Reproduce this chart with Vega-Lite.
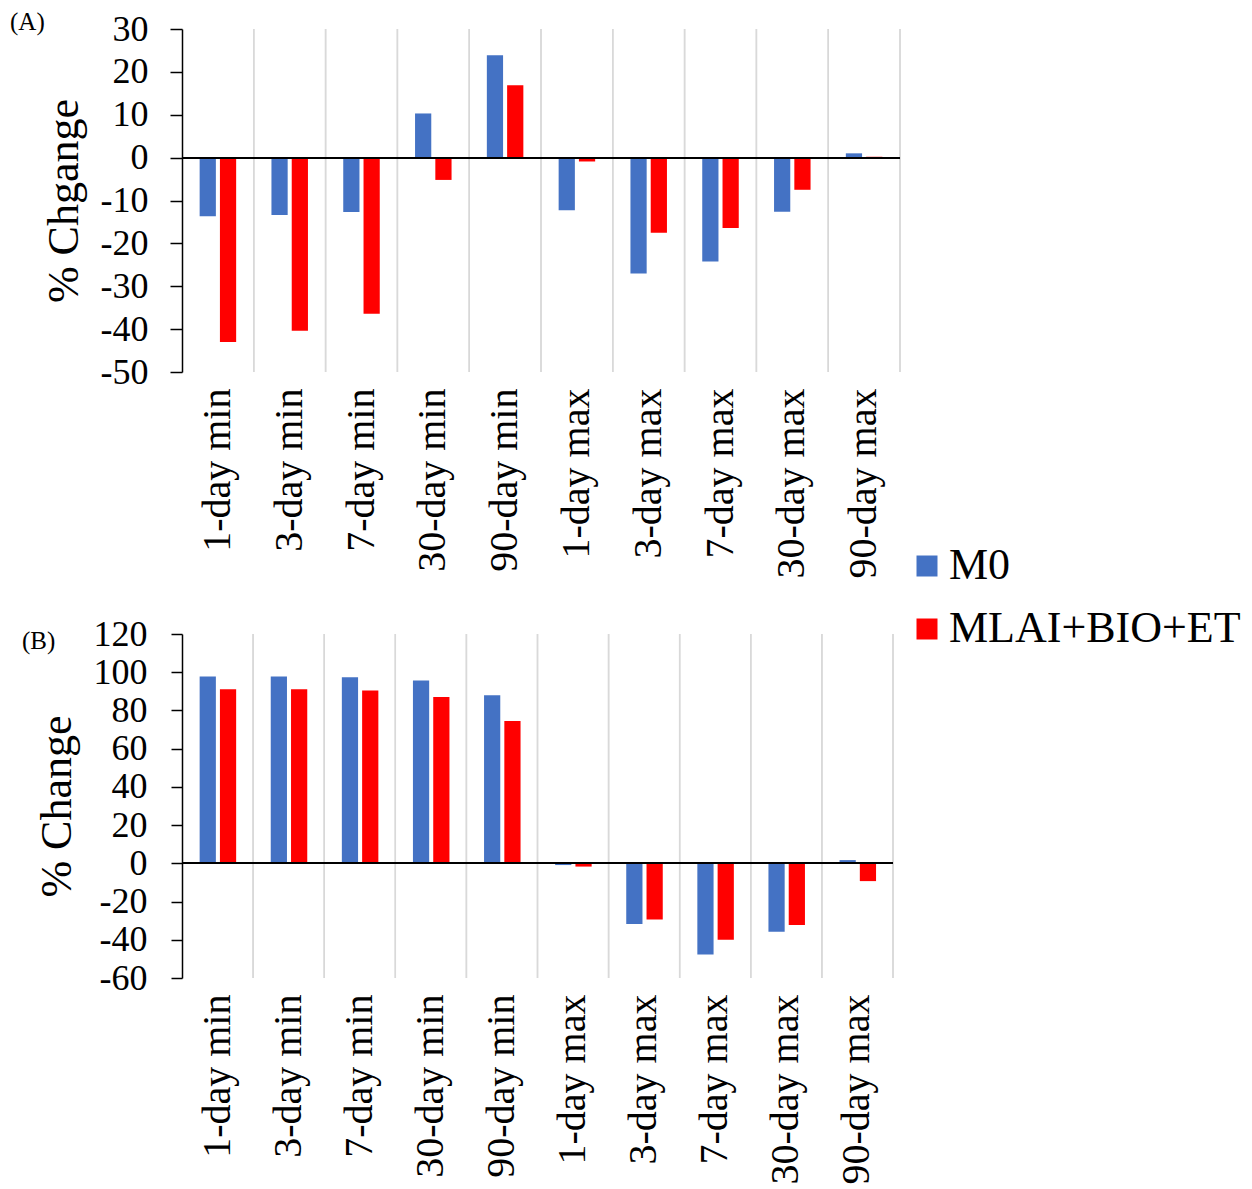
{
  "$schema": "https://vega.github.io/schema/vega-lite/v6.json",
  "background": "white",
  "padding": {"left": 10, "top": 10, "right": 5, "bottom": 5},
  "config": {
    "font": "Liberation Serif",
    "view": {"stroke": null},
    "axis": {"labelFont": "Liberation Serif", "titleFont": "Liberation Serif", "labelColor": "black", "titleColor": "black", "titleFontWeight": "normal"},
    "axisY": {"labelOverlap": false},
    "legend": {"labelFont": "Liberation Serif"},
    "title": {"font": "Liberation Serif", "fontWeight": "normal", "color": "black"}
  },
  "data": {
    "values": [
      {"panel": "A", "metric": "1-day min", "series": "M0", "value": -13.7},
      {"panel": "A", "metric": "1-day min", "series": "MLAI+BIO+ET", "value": -43.0},
      {"panel": "A", "metric": "3-day min", "series": "M0", "value": -13.4},
      {"panel": "A", "metric": "3-day min", "series": "MLAI+BIO+ET", "value": -40.4},
      {"panel": "A", "metric": "7-day min", "series": "M0", "value": -12.7},
      {"panel": "A", "metric": "7-day min", "series": "MLAI+BIO+ET", "value": -36.4},
      {"panel": "A", "metric": "30-day min", "series": "M0", "value": 10.3},
      {"panel": "A", "metric": "30-day min", "series": "MLAI+BIO+ET", "value": -5.2},
      {"panel": "A", "metric": "90-day min", "series": "M0", "value": 23.9},
      {"panel": "A", "metric": "90-day min", "series": "MLAI+BIO+ET", "value": 16.9},
      {"panel": "A", "metric": "1-day max", "series": "M0", "value": -12.3},
      {"panel": "A", "metric": "1-day max", "series": "MLAI+BIO+ET", "value": -0.9},
      {"panel": "A", "metric": "3-day max", "series": "M0", "value": -27.0},
      {"panel": "A", "metric": "3-day max", "series": "MLAI+BIO+ET", "value": -17.5},
      {"panel": "A", "metric": "7-day max", "series": "M0", "value": -24.2},
      {"panel": "A", "metric": "7-day max", "series": "MLAI+BIO+ET", "value": -16.4},
      {"panel": "A", "metric": "30-day max", "series": "M0", "value": -12.6},
      {"panel": "A", "metric": "30-day max", "series": "MLAI+BIO+ET", "value": -7.5},
      {"panel": "A", "metric": "90-day max", "series": "M0", "value": 1.0},
      {"panel": "A", "metric": "90-day max", "series": "MLAI+BIO+ET", "value": 0.2},
      {"panel": "B", "metric": "1-day min", "series": "M0", "value": 97.7},
      {"panel": "B", "metric": "1-day min", "series": "MLAI+BIO+ET", "value": 91.1},
      {"panel": "B", "metric": "3-day min", "series": "M0", "value": 97.7},
      {"panel": "B", "metric": "3-day min", "series": "MLAI+BIO+ET", "value": 91.1},
      {"panel": "B", "metric": "7-day min", "series": "M0", "value": 97.4},
      {"panel": "B", "metric": "7-day min", "series": "MLAI+BIO+ET", "value": 90.4},
      {"panel": "B", "metric": "30-day min", "series": "M0", "value": 95.7},
      {"panel": "B", "metric": "30-day min", "series": "MLAI+BIO+ET", "value": 87.0},
      {"panel": "B", "metric": "90-day min", "series": "M0", "value": 88.0},
      {"panel": "B", "metric": "90-day min", "series": "MLAI+BIO+ET", "value": 74.5},
      {"panel": "B", "metric": "1-day max", "series": "M0", "value": -0.9},
      {"panel": "B", "metric": "1-day max", "series": "MLAI+BIO+ET", "value": -1.7},
      {"panel": "B", "metric": "3-day max", "series": "M0", "value": -31.8},
      {"panel": "B", "metric": "3-day max", "series": "MLAI+BIO+ET", "value": -29.4},
      {"panel": "B", "metric": "7-day max", "series": "M0", "value": -47.7},
      {"panel": "B", "metric": "7-day max", "series": "MLAI+BIO+ET", "value": -40.0},
      {"panel": "B", "metric": "30-day max", "series": "M0", "value": -35.8},
      {"panel": "B", "metric": "30-day max", "series": "MLAI+BIO+ET", "value": -32.3},
      {"panel": "B", "metric": "90-day max", "series": "M0", "value": 1.7},
      {"panel": "B", "metric": "90-day max", "series": "MLAI+BIO+ET", "value": -9.3}
    ]
  },
  "spacing": 38,
  "vconcat": [
    {
      "title": {"text": "(A)", "anchor": "start", "frame": "group", "fontSize": 25, "dx": -172, "dy": 28},
      "width": 718,
      "height": 343,
      "transform": [{"filter": "datum.panel === 'A'"}],
      "layer": [
        {
          "mark": {"type": "rule", "color": "#D9D9D9", "strokeWidth": 1.5},
          "encoding": {
            "x": {"field": "metric", "type": "nominal", "bandPosition": 1, "sort": null}
          }
        },
        {
          "mark": {"type": "bar"},
          "encoding": {
            "x": {"field": "metric", "type": "nominal", "sort": null, "title": null,
                  "scale": {"paddingInner": 0, "paddingOuter": 0},
                  "axis": {"labelAngle": 270, "labelFontSize": 40, "labelPadding": 16, "labelLimit": 400, "domain": false, "ticks": false, "grid": false}},
            "xOffset": {"field": "series", "type": "nominal", "scale": {"paddingInner": 0.2, "paddingOuter": 0.87}},
            "y": {"field": "value", "type": "quantitative", "title": "% Chgange",
                  "scale": {"domain": [-50, 30], "nice": false},
                  "axis": {"values": [-50, -40, -30, -20, -10, 0, 10, 20, 30], "labelExpr": "'' + datum.value", "labelOverlap": false, "labelFontSize": 36, "labelPadding": 22, "tickSize": 12, "tickColor": "black", "tickWidth": 1.5, "domainColor": "black", "domainWidth": 1.5, "grid": false, "titleFontSize": 44, "titlePadding": 14}},
            "color": {"field": "series", "type": "nominal",
                      "scale": {"domain": ["M0", "MLAI+BIO+ET"], "range": ["#4472C4", "#FF0000"]},
                      "legend": {"title": null, "orient": "none", "legendX": 723, "legendY": 515, "labelFontSize": 44, "labelLimit": 500, "symbolType": "square", "symbolSize": 441, "symbolStrokeWidth": 0, "rowPadding": 19, "labelOffset": 0}}
          }
        },
        {
          "mark": {"type": "rule", "color": "black", "strokeWidth": 1.5},
          "encoding": {"y": {"datum": 0, "type": "quantitative"}}
        }
      ]
    },
    {
      "title": {"text": "(B)", "anchor": "start", "frame": "group", "fontSize": 25, "dx": -160, "dy": 42},
      "width": 711,
      "height": 344,
      "transform": [{"filter": "datum.panel === 'B'"}],
      "layer": [
        {
          "mark": {"type": "rule", "color": "#D9D9D9", "strokeWidth": 1.5},
          "encoding": {
            "x": {"field": "metric", "type": "nominal", "bandPosition": 1, "sort": null}
          }
        },
        {
          "mark": {"type": "bar"},
          "encoding": {
            "x": {"field": "metric", "type": "nominal", "sort": null, "title": null,
                  "scale": {"paddingInner": 0, "paddingOuter": 0},
                  "axis": {"labelAngle": 270, "labelFontSize": 40, "labelPadding": 16, "labelLimit": 400, "domain": false, "ticks": false, "grid": false}},
            "xOffset": {"field": "series", "type": "nominal", "scale": {"paddingInner": 0.2, "paddingOuter": 0.87}},
            "y": {"field": "value", "type": "quantitative", "title": "% Change",
                  "scale": {"domain": [-60, 120], "nice": false},
                  "axis": {"values": [-60, -40, -20, 0, 20, 40, 60, 80, 100, 120], "labelExpr": "'' + datum.value", "labelOverlap": false, "labelFontSize": 36, "labelPadding": 24, "tickSize": 11, "tickColor": "black", "tickWidth": 1.5, "domainColor": "black", "domainWidth": 1.5, "grid": false, "titleFontSize": 44, "titlePadding": 14}},
            "color": {"field": "series", "type": "nominal",
                      "scale": {"domain": ["M0", "MLAI+BIO+ET"], "range": ["#4472C4", "#FF0000"]}}
          }
        },
        {
          "mark": {"type": "rule", "color": "black", "strokeWidth": 1.5},
          "encoding": {"y": {"datum": 0, "type": "quantitative",
                  "axis": {"values": [-60, -40, -20, 0, 20, 40, 60, 80, 100, 120], "labelExpr": "'' + datum.value", "labelOverlap": false, "labelFontSize": 36, "labelPadding": 24, "tickSize": 11, "tickColor": "black", "tickWidth": 1.5, "domainColor": "black", "domainWidth": 1.5, "grid": false, "titleFontSize": 44, "titlePadding": 14}}}
        }
      ]
    }
  ]
}
